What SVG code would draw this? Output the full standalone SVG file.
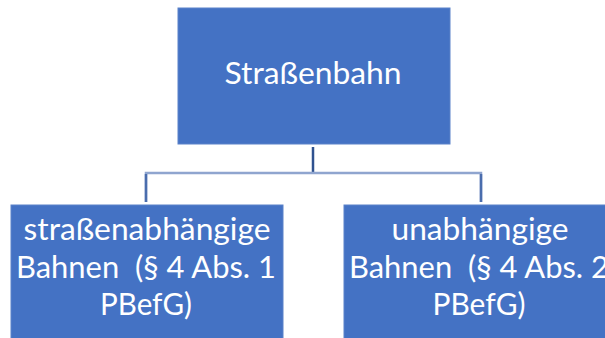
<svg xmlns="http://www.w3.org/2000/svg" width="605" height="338" viewBox="0 0 605 338">
<style>
.box{fill:#4472C4;stroke:#5B82C9;stroke-width:1}
.t{font-family:Lato,"Open Sans","Liberation Sans",sans-serif;fill:#FFFFFF;text-anchor:middle;white-space:pre}
.big{font-size:30px}
.c{fill:none;stroke-width:2.5}
</style>
<rect width="605" height="338" fill="#FFFFFF"/>
<g id="connectors">
<line class="c" x1="313" y1="147" x2="313" y2="173" stroke="#2F528F"/>
<polyline class="c" points="146,202 146,173 481,173 481,202" stroke="#8FA5CF"/>
<line class="c" x1="146" y1="174" x2="146" y2="202" stroke="#4A6DAD"/>
<line class="c" x1="481" y1="174" x2="481" y2="202" stroke="#4A6DAD"/>
</g>
<g id="node-strassenbahn">
<rect class="box" x="178" y="8" width="272" height="136"/>
<text class="t big" x="313" y="84" textLength="177" lengthAdjust="spacingAndGlyphs">Straßenbahn</text>
</g>
<g id="node-strassenabhaengig">
<rect class="box" x="11" y="205" width="272" height="140"/>
<text class="t big" x="147" y="240" textLength="247" lengthAdjust="spacingAndGlyphs">straßenabhängige</text>
<text class="t big" x="146" y="278" textLength="260" lengthAdjust="spacingAndGlyphs">Bahnen  (§ 4 Abs. 1</text>
<text class="t big" x="146" y="315" textLength="92" lengthAdjust="spacingAndGlyphs">PBefG)</text>
</g>
<g id="node-unabhaengig">
<rect class="box" x="344" y="205" width="272" height="140"/>
<text class="t big" x="480" y="240" textLength="177" lengthAdjust="spacingAndGlyphs">unabhängige</text>
<text class="t big" x="479" y="278" textLength="260" lengthAdjust="spacingAndGlyphs">Bahnen  (§ 4 Abs. 2</text>
<text class="t big" x="479" y="315" textLength="93" lengthAdjust="spacingAndGlyphs">PBefG)</text>
</g>
</svg>
